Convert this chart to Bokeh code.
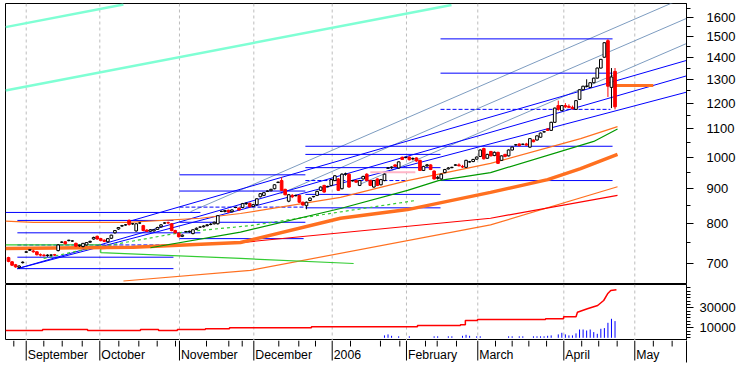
from bokeh.plotting import figure
from bokeh.layouts import column
from bokeh.models import Range1d, FixedTicker, Span, ColumnDataSource
from bokeh.core.properties import value
from bokeh.embed import file_html
from bokeh.resources import INLINE

FONT = "Liberation Sans"
W = 742

# ---------------- data ----------------
opens = [714,704,697,691,702,727,732,730,728,721,720,719,720,721,731,752,753,756,755,749,
         743,741,745,752,760,767,761,757,753,762,776,786,794,797,809,800,781,802,795,783,
         780,781,785,792,802,803,800,782,775,767,779,779,774,785,791,792,795,798,800,800,
         834,834,837,833,845,843,845,856,857,848,853,876,880,892,894,900,919,925,898,863,
         880,879,880,860,850,865,876,880,895,910,906,910,925,930,900,945,945,924,925,910,
         930,945,925,905,930,912,925,964,966,975,965,1000,999,1001,995,998,990,957,972,975,
         955,932,930,950,962,966,974,975,970,967,985,986,994,1003,1030,997,1020,1006,1017,990,
         1010,1005,1025,1043,1046,1045,1046,1035,1060,1060,1070,1089,1100,1095,1125,1190,1170,1190,1187,1183,
         1175,1215,1255,1270,1265,1285,1305,1350,1400,1480,1265,1335]
highs = [716,706,699,696,705,730,735,733,730,724,723,722,722,723,747,754,755,758,757,751,
         746,750,752,756,766,769,763,759,762,771,783,791,797,799,812,802,801,804,797,786,
         786,786,792,799,804,806,802,784,777,772,781,782,785,790,793,796,799,802,806,823,
         836,838,839,840,847,845,858,860,859,855,872,887,890,895,900,914,922,935,900,884,
         884,882,882,862,862,874,878,894,907,912,909,930,942,933,948,950,948,926,928,927,
         940,948,927,927,932,930,947,967,970,977,987,1003,1002,1003,1000,1000,992,972,978,977,
         957,940,947,962,968,969,977,980,975,992,988,995,1003,1027,1033,1012,1022,1020,1019,1007,
         1012,1027,1037,1045,1048,1047,1050,1067,1062,1077,1087,1092,1103,1127,1182,1210,1192,1200,1195,1190,
         1212,1257,1272,1300,1287,1307,1352,1392,1472,1487,1350,1350]
lows = [703,694,690,688,700,725,730,726,719,717,716,716,717,718,729,750,746,754,753,740,
        740,739,744,750,758,758,754,752,751,760,774,784,792,795,795,797,779,800,780,778,
        778,779,784,790,800,800,780,774,764,765,777,776,772,783,789,790,793,796,798,798,
        832,831,830,831,843,836,843,852,845,846,851,874,878,890,892,898,917,893,880,860,
        872,877,858,850,840,863,874,878,893,888,904,908,923,893,898,940,903,922,918,908,
        928,923,908,903,908,910,923,962,962,968,963,991,997,990,990,985,955,955,968,958,
        928,928,928,948,960,964,972,970,965,965,983,984,992,1001,993,995,1003,1004,978,988,
        1000,1003,1023,1040,1038,1043,1040,1033,1052,1058,1068,1087,1093,1093,1123,1170,1168,1180,1180,1175,
        1173,1213,1253,1265,1263,1283,1303,1348,1398,1225,1180,1175]
closes = [705,696,692,694,703,728,733,728,721,720,719,720,720,720,745,752,748,757,755,742,
          744,749,751,754,764,760,756,754,761,770,782,790,795,797,798,800,800,802,782,780,
          784,784,790,797,802,802,782,776,766,770,779,780,784,788,791,794,797,799,804,822,
          834,836,832,838,845,838,856,857,847,853,870,885,888,893,898,912,920,895,882,882,
          876,880,860,852,860,872,877,892,905,890,907,928,940,895,945,946,905,925,920,925,
          938,925,910,925,910,928,945,965,968,970,985,993,1000,992,996,988,957,970,975,960,
          930,935,945,960,965,967,975,972,968,990,985,993,1001,1025,995,1010,1005,1017,980,1005,
          1003,1025,1035,1043,1040,1045,1042,1065,1054,1075,1085,1090,1095,1125,1180,1175,1190,1185,1183,1178,
          1210,1255,1270,1270,1285,1305,1350,1390,1470,1270,1310,1185]

# month starts (bar index), labels, weekly minor ticks
month_starts = [4.99, 25.74, 48.2, 69.16, 91.26, 112.2, 132.3, 156.56, 176.57]
month_labels = ["September", "October", "November", "December", "2006",
                "February", "March", "April", "May"]
week_ticks = [1.49, 9.95, 15.14, 20.78, 31.1, 36.74, 41.92, 47.08, 55.82, 62.11, 65.89,
              76.2, 81.84, 86.55, 96.42, 104.87, 110.32, 117.56, 120.86, 126.3, 137.3,
              142.0, 146.7, 151.7, 161.6, 166.4, 171.6, 181.8, 187.1]
price_ticks = [700, 800, 900, 1000, 1100, 1200, 1300, 1400, 1500, 1600]
price_minor = [650, 750, 850, 950, 1050, 1150, 1250, 1350, 1450, 1550, 1650]
vol_ticks = [10000, 30000]
vol_minor = [0, 3333, 6667, 13333, 16667, 20000, 23333, 26667, 33333, 36667, 40000,
             43333, 46667, 50000, 53333]

# aquamarine parallel lines: x0, y0, x1, y1
aqua_x0 = [-0.85, -0.85]
aqua_y0 = [1549, 1252]
aqua_x1 = [32.4, 124.9]
aqua_y1 = [1671, 1669]

# blue horizontal levels: start, end, price
hl_solid_x0 = [121.8, 121.8, 83.7, 121.8, 83.7, 83.7, 83.7, 83.7, 48.2, 48.2, 48.2, 48.2, -0.85, 2.5, 2.5, 2.5, 2.5]
hl_solid_x1 = [170.3, 170.3, 170.3, 170.3, 121.8, 121.8, 121.8, 121.8, 83.7, 83.7, 83.7, 83.2, 54.1, 46.5, 54.1, 46.5, 46.5]
hl_solid_y = [1489, 1327, 1038, 925, 1010, 966, 883, 844, 943, 893, 804, 761, 831, 809, 776, 715, 688]
hl_dash_x0 = [121.8, 83.7, 48.2, 2.5]
hl_dash_x1 = [169.7, 112.5, 83.7, 46.5]
hl_dash_y = [1175, 925, 846, 745]

# blue rising trend lines
bt_x0 = [2.5, 2.5, 33.5]
bt_y0 = [688, 688, 805]
bt_x1 = [191.15, 191.15, 191.15]
bt_y1 = [1245, 1315, 1385]

# steel-blue parallel rising lines
st_x0 = [51.3, 76.7, 99.2]
st_y0 = [833, 885, 914]
st_x1 = [191.15, 191.15, 191.15]
st_y1 = [1716, 1595, 1466]

# moving averages / indicator lines (sparse reading points)
ma_thick_x = [-0.85, 35.2, 65.4, 93.6, 112.5, 135.9, 152.0, 161.3, 171.7]
ma_thick_y = [736, 739, 751, 815, 839, 889, 928, 963, 1010]
ma_or1_x = [-0.85, 7.0, 33.5, 54.1, 65.4, 93.6, 112.5, 135.9, 161.3, 171.7]
ma_or1_y = [807, 804, 804, 815, 828, 874, 925, 980, 1065, 1109]
ma_gr1_x = [40.0, 65.4, 93.6, 112.5, 121.2, 135.9, 165.0, 171.7]
ma_gr1_y = [738, 778, 842, 895, 925, 950, 1055, 1100]
ma_red_x = [26.0, 65.4, 135.9, 171.7]
ma_red_y = [736, 751, 815, 880]
ma_or2_x = [32.4, 68.2, 135.9, 171.7]
ma_or2_y = [660, 684, 797, 906]
gr_decl_x = [-0.85, 26.0, 26.0, 65.4, 97.3]
gr_decl_y = [745, 745, 726, 712, 700]
gr_dash_x = [9.9, 21.1, 35.2, 49.3, 68.2, 114.7]
gr_dash_y = [712, 733, 755, 778, 795, 865]
pink_x = [102.0, 114.7]
pink_y = [951, 951]
last_x = [171.1, 181.8]
last_y = [1273, 1273]

# volume panel
vol_x = [106, 107, 108, 110, 113, 120, 121, 124, 125, 128, 129, 130, 132, 133, 141, 142, 144, 145,
         148, 149, 150, 151, 152, 153, 155, 156, 157, 158, 159, 160, 161, 162, 163, 164, 165,
         166, 167, 168, 169, 170, 171]
vol_v = [2400, 3400, 2000, 1500, 1500, 1500, 1500, 1500, 1500, 2000, 3000, 2000, 1500, 1500, 1500,
         1500, 1500, 1500, 1500, 1500, 1500, 1500, 2000, 2400, 3400, 5000, 3400, 2400, 2400, 4400,
         8300, 8300, 7300, 8300, 5700, 4000, 9000, 9700, 15000, 19000, 16700]
ind_x = [-0.85, 9.6, 9.6, 22.3, 22.3, 37.2, 37.2, 42.3, 42.3, 47.6, 47.6, 55.5, 55.5, 62.3, 62.3,
         85.4, 85.4, 115.3, 115.3, 127.4, 127.4, 128.8, 128.8, 132.2, 132.2, 151.4, 151.4, 156.5,
         156.5, 160.0, 160.4, 163.2, 166.1, 167.8, 168.9, 169.8, 171.4]
ind_v = [7300, 7300, 8300, 8300, 7300, 7300, 8300, 8300, 7300, 7300, 8300, 8300, 9000, 9000, 10000,
         10000, 11000, 11000, 12300, 12300, 13000, 13000, 17300, 17300, 18300, 18300, 19000, 19000,
         21000, 21000, 25600, 29000, 32300, 37300, 44000, 47300, 48000]

# ---------------- main panel ----------------
X0, X1 = -0.85, 191.15
GRID = dict(line_color="#BDBDBD", line_dash="3 3", line_width=1, level="underlay")

p = figure(width=W, height=284, y_axis_type="log", x_axis_location=None,
           y_axis_location="right", x_range=Range1d(X0, X1),
           y_range=Range1d(654.5, 1677.0), toolbar_location=None,
           output_backend="svg", min_border_left=5, min_border_right=56,
           min_border_top=3, min_border_bottom=1)
p.xgrid.visible = False
p.ygrid.visible = False
p.outline_line_color = "black"
p.border_fill_color = "white"

ax = p.yaxis[0]
ax.ticker = FixedTicker(ticks=price_ticks, minor_ticks=price_minor)
ax.major_tick_out = 7
ax.major_tick_in = 0
ax.minor_tick_out = 4
ax.minor_tick_in = 0
ax.axis_line_color = "black"
ax.major_label_standoff = 13
ax.major_label_text_font = FONT
ax.major_label_text_font_size = "13px"
ax.major_label_text_color = "black"

for m in month_starts:
    p.add_layout(Span(location=m, dimension="height", **GRID))

# trend / level lines
p.segment(aqua_x0, aqua_y0, aqua_x1, aqua_y1, line_color="#7FFFD4", line_width=2.5)
p.segment(st_x0, st_y0, st_x1, st_y1, line_color="#7D9CC0", line_width=1)
p.segment(bt_x0, bt_y0, bt_x1, bt_y1, line_color="#0000FF", line_width=1)
p.segment(hl_solid_x0, hl_solid_y, hl_solid_x1, hl_solid_y, line_color="#0000FF", line_width=1)
p.segment(hl_dash_x0, hl_dash_y, hl_dash_x1, hl_dash_y, line_color="#0000FF", line_width=1,
          line_dash="4 2")

p.line(ma_or2_x, ma_or2_y, line_color="#FF7020", line_width=1.2)
p.line(ma_red_x, ma_red_y, line_color="#FF0000", line_width=1.2)
p.line(gr_decl_x, gr_decl_y, line_color="#33CC33", line_width=1.2)
p.line(gr_dash_x, gr_dash_y, line_color="#33CC33", line_width=1.2, line_dash="3 3")
p.line(ma_thick_x, ma_thick_y, line_color="#FF7020", line_width=3.5)
p.line(ma_gr1_x, ma_gr1_y, line_color="#009900", line_width=1.2)
p.line(ma_or1_x, ma_or1_y, line_color="#FF7020", line_width=1.2)
p.line(pink_x, pink_y, line_color="#FFB6C8", line_width=2)
p.line(last_x, last_y, line_color="#FF7020", line_width=3)

# candles
up = dict(x=[], top=[], bottom=[], hi=[], lo=[])
dn = dict(x=[], top=[], bottom=[], hi=[], lo=[])
for i in range(len(closes)):
    d = up if closes[i] >= opens[i] else dn
    d["x"].append(i)
    d["top"].append(max(opens[i], closes[i]))
    d["bottom"].append(min(opens[i], closes[i]))
    d["hi"].append(highs[i])
    d["lo"].append(lows[i])
su, sd = ColumnDataSource(up), ColumnDataSource(dn)
p.segment("x", "hi", "x", "lo", source=sd, line_color="#FF0000", line_width=1)
p.vbar(x="x", width=0.75, top="top", bottom="bottom", source=sd,
       fill_color="#FF0000", line_color="#FF0000", line_width=1)
p.segment("x", "hi", "x", "lo", source=su, line_color="black", line_width=1)
p.vbar(x="x", width=0.75, top="top", bottom="bottom", source=su,
       fill_color="white", line_color="black", line_width=1)

# ---------------- volume panel ----------------
v = figure(width=W, height=56, x_range=p.x_range, y_range=Range1d(-2700, 53300),
           y_axis_location="right", x_axis_location=None, toolbar_location=None,
           output_backend="svg", min_border_left=5, min_border_right=56,
           min_border_top=0, min_border_bottom=0)
v.xgrid.visible = False
v.ygrid.visible = False
v.outline_line_color = "black"
v.border_fill_color = "white"

vy = v.yaxis[0]
vy.ticker = FixedTicker(ticks=vol_ticks, minor_ticks=vol_minor)
vy.major_tick_out = 7
vy.major_tick_in = 0
vy.minor_tick_out = 4
vy.minor_tick_in = 0
vy.axis_line_color = "black"
vy.major_label_standoff = 6
vy.major_label_text_font = FONT
vy.major_label_text_font_size = "13px"
vy.major_label_text_color = "black"

for m in month_starts:
    v.add_layout(Span(location=m, dimension="height", **GRID))

v.segment(vol_x, [0] * len(vol_x), vol_x, vol_v, line_color="#0000FF", line_width=1)
v.line(ind_x, ind_v, line_color="#FF0000", line_width=1.5)

# ---------------- date strip ----------------
d = figure(width=W, height=26, x_range=p.x_range, y_range=Range1d(0, 22),
           x_axis_location=None, y_axis_location="right", toolbar_location=None,
           output_backend="svg", min_border_left=5, min_border_right=56,
           min_border_top=0, min_border_bottom=4)
d.xgrid.visible = False
d.ygrid.visible = False
d.outline_line_color = None
d.border_fill_color = "white"
dy = d.yaxis[0]
dy.ticker = FixedTicker(ticks=[])
dy.major_tick_out = 0
dy.minor_tick_out = 0
dy.major_label_text_color = None
dy.axis_line_color = "black"

d.segment(month_starts, [22] * len(month_starts), month_starts, [2] * len(month_starts),
          line_color="black", line_width=1)
d.segment(week_ticks, [22] * len(week_ticks), week_ticks, [16] * len(week_ticks),
          line_color="black", line_width=1)
d.text(x=month_starts, y=[8] * len(month_starts), text=month_labels, x_offset=1.5,
       text_align="left", text_baseline="alphabetic", text_font=value(FONT),
       text_font_size="12.3px", text_color="black")

layout = column(p, v, d)
open("out.html", "w").write(file_html(layout, INLINE))
